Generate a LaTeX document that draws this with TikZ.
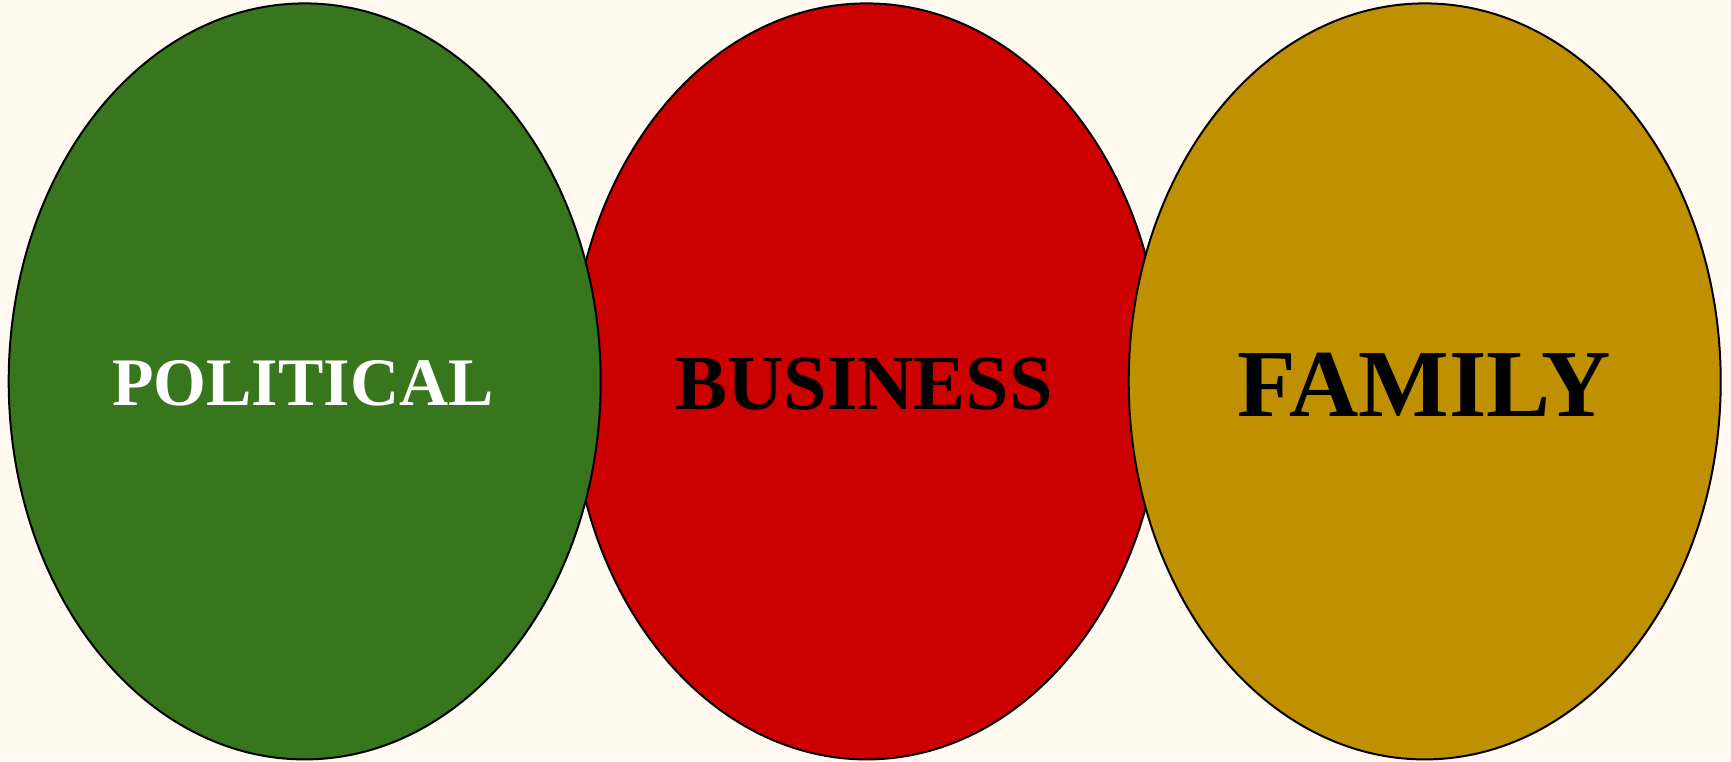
\documentclass[tikz,border=0pt]{standalone}
\usepackage{fontspec}
\setmainfont{Liberation Serif}
\definecolor{bgcream}{HTML}{FFF9EF}
\definecolor{polgreen}{HTML}{38761D}
\definecolor{busred}{HTML}{CC0000}
\definecolor{famgold}{HTML}{BF9000}
\begin{document}
\begin{tikzpicture}[x=1pt,y=-1pt,
  blob/.style={draw=black,line width=2pt},
  word/.style={anchor=base,inner sep=0pt}]
\fill[bgcream] (0,0) rectangle (1731,761);
\useasboundingbox (0,0) rectangle (1731,761);
% middle circle first, the outer two overlap it
\draw[blob,fill=busred] (866.6,381.4) ellipse [x radius=296,y radius=378];
\draw[blob,fill=polgreen] (304.7,381.4) ellipse [x radius=296,y radius=378];
\draw[blob,fill=famgold] (1424.7,381.4) ellipse [x radius=296,y radius=378];
\node[word,text=white,font=\fontsize{68}{68}\selectfont\bfseries] (pol) at (303,405) {POLITICAL};
\node[word,text=black,font=\fontsize{78}{78}\selectfont\bfseries] (bus) at (864,409) {BUSINESS};
\node[word,text=black,font=\fontsize{96}{96}\selectfont\bfseries] (fam) at (1424.5,416) {FAMILY};
\end{tikzpicture}
\end{document}
